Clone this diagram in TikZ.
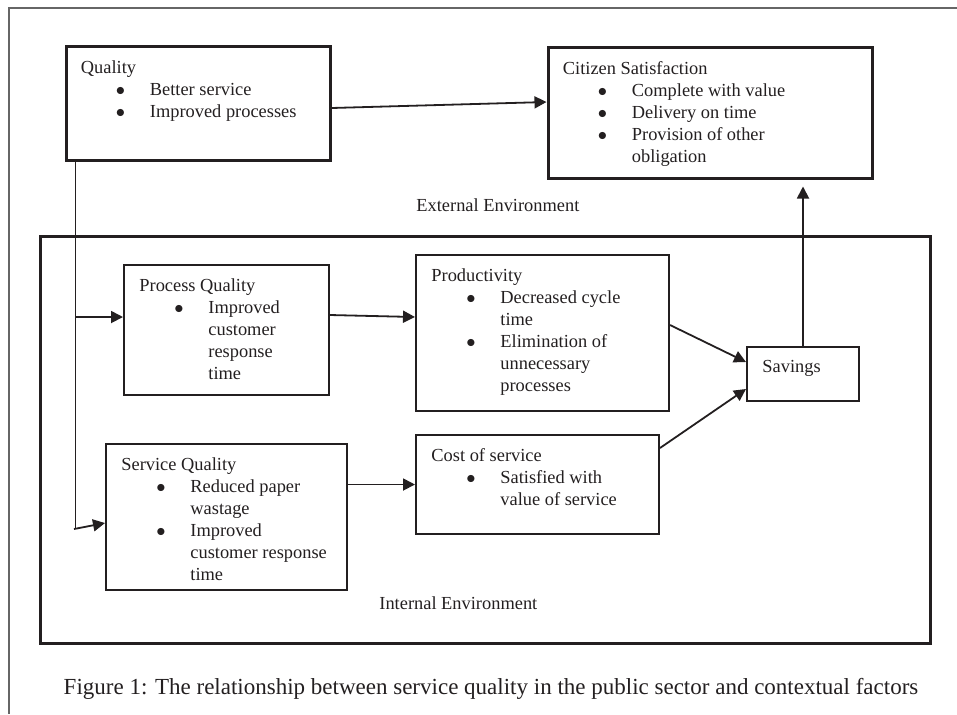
\documentclass[tikz,border=0pt]{standalone}
\usepackage{fontspec}
\setmainfont{Liberation Serif}
\usetikzlibrary{arrows.meta}
\definecolor{ink}{HTML}{231F20}
\newcommand{\bul}{\makebox[34.5pt][l]{\hspace{17.5pt}$\bullet$}}
\newcommand{\cnt}{\hspace*{34.5pt}}

\begin{document}
\begin{tikzpicture}[x=1pt,y=-1pt,
    thickbox/.style={draw=ink,line width=1.5pt,inner sep=0pt},
    thinbox/.style={draw=ink,line width=1pt,inner sep=0pt},
    txt/.style={anchor=base west,inner sep=0pt,text=ink,font=\fontsize{9.2}{11}\selectfont},
    link/.style={draw=ink,line width=0.9pt},
    arr/.style={link,-{Triangle[length=6pt,width=6pt]}}]
    \useasboundingbox (0,0) rectangle (478.5,357);
    \draw[gray!80!black,line width=0.6pt] (478.5,4)--(4.5,4)--(4.5,357);

    \node[thickbox,minimum width=132pt,minimum height=57pt] (quality) at (99,51.5) {};
    \node[txt] (qualitytext) at ([shift={(8,14.5)}]quality.north west)
    {\begin{tabular}[t]{@{}l@{}}Quality\\ \bul Better service\\ \bul Improved processes\end{tabular}};
    \node[thickbox,minimum width=162pt,minimum height=65.5pt] (citizen) at (355,56.25) {};
    \node[txt] (citizentext) at ([shift={(8,14.5)}]citizen.north west)
    {\begin{tabular}[t]{@{}l@{}}Citizen Satisfaction\\ \bul Complete with value\\ \bul Delivery on time\\
    \bul Provision of other\\ \cnt obligation\end{tabular}};
    \node[txt] (external) at (208,105.5) {External Environment};

    \node[thickbox,minimum width=445pt,minimum height=203.5pt] (internal) at (242.5,219.75) {};
    \node[txt] (internaltext) at (189.5,304.5) {Internal Environment};

    \node[thinbox,minimum width=102.5pt,minimum height=65pt] (process) at (113.25,165) {};
    \node[txt] (processtext) at ([shift={(8,13.5)}]process.north west)
    {\begin{tabular}[t]{@{}l@{}}Process Quality\\ \bul Improved\\ \cnt customer\\ \cnt response\\ \cnt time\end{tabular}};
    \node[thinbox,minimum width=126.5pt,minimum height=78pt] (productivity) at (271.25,166.5) {};
    \node[txt] (productivitytext) at ([shift={(8,13.5)}]productivity.north west)
    {\begin{tabular}[t]{@{}l@{}}Productivity\\ \bul Decreased cycle\\ \cnt time\\ \bul Elimination of\\
    \cnt unnecessary\\ \cnt processes\end{tabular}};
    \node[thinbox,minimum width=56pt,minimum height=27pt] (savings) at (401.5,187) {};
    \node[txt] (savingstext) at ([shift={(8,13)}]savings.north west) {Savings};
    \node[thinbox,minimum width=120.5pt,minimum height=73pt] (service) at (113.25,258.5) {};
    \node[txt] (servicetext) at ([shift={(8,13.5)}]service.north west)
    {\begin{tabular}[t]{@{}l@{}}Service Quality\\ \bul Reduced paper\\ \cnt wastage\\ \bul Improved\\
    \cnt customer response\\ \cnt time\end{tabular}};
    \node[thinbox,minimum width=121.5pt,minimum height=49.5pt] (cost) at (268.75,242.25) {};
    \node[txt] (costtext) at ([shift={(8,13.5)}]cost.north west)
    {\begin{tabular}[t]{@{}l@{}}Cost of service\\ \bul Satisfied with\\ \cnt value of service\end{tabular}};

    \draw[arr] ([yshift=-2.5pt]quality.east)--([yshift=5.25pt]citizen.west);
    \coordinate (fork) at ([xshift=5.5pt]quality.south west);
    \coordinate (forkend) at (37,264.5);
    \coordinate (processin) at ([yshift=6.5pt]process.west);
    \draw[link] (fork)--(fork |- forkend);
    \draw[arr] (fork |- processin)--(processin);
    \draw[arr] (forkend)--([yshift=-3pt]service.west);
    \draw[arr] ([yshift=7.5pt]process.east)--([yshift=8pt]productivity.west);
    \draw[arr] (service.east |- cost.west)--(cost.west);
    \draw[arr] ([yshift=4pt]productivity.east)--([yshift=6pt]savings.west);
    \draw[arr] ([yshift=18.25pt]cost.east)--([yshift=-7.5pt]savings.west);
    \draw[arr,shorten >=3.5pt] (savings.north)--(savings.north |- citizen.south);

    \node[text=ink,font=\fontsize{11.5}{14}\selectfont] (caption) at (245.5,344.5)
    {Figure 1: The relationship between service quality in the public sector and contextual factors};
\end{tikzpicture}
\end{document}
